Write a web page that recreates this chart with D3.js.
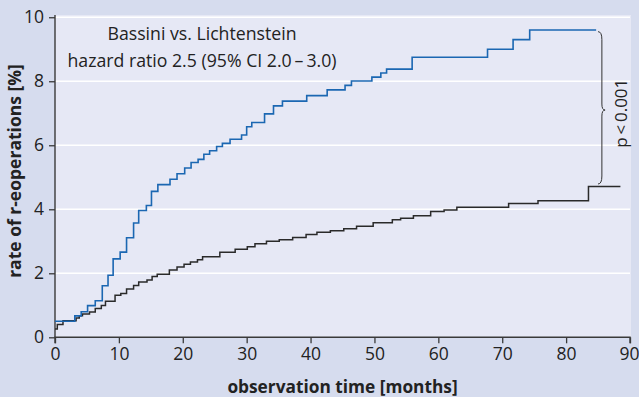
<!DOCTYPE html>
<html>
<head>
<meta charset="utf-8">
<script src="https://cdn.jsdelivr.net/npm/d3@7"></script>
<style>
  html, body { margin: 0; padding: 0; background: #d6dcee; }
  svg { display: block; font-family: "Open Sans", sans-serif; }
</style>
</head>
<body>
<svg id="chart" width="639" height="397"></svg>
<script>
// ---- data ----
const bassiniTime  = [0, 3.1, 4.1, 5.1, 6.3, 7.4, 8.3, 9.1, 10.2, 11.2, 12.3, 13.1, 14.3, 15.1, 16.1, 18.0, 19.1, 20.3, 21.3, 22.4, 23.3, 24.2, 25.3, 26.2, 27.4, 29.2, 30.0, 30.8, 32.8, 34.2, 35.6, 39.4, 42.6, 45.4, 46.4, 49.6, 51.0, 51.9, 55.9, 67.7, 71.7, 74.3, 84.7];
const bassiniRate  = [0.5, 0.67, 0.8, 0.99, 1.14, 1.61, 1.94, 2.45, 2.66, 3.11, 3.57, 3.96, 4.12, 4.56, 4.77, 4.94, 5.11, 5.29, 5.46, 5.56, 5.72, 5.83, 5.96, 6.06, 6.19, 6.32, 6.58, 6.71, 6.98, 7.23, 7.38, 7.55, 7.73, 7.87, 8.01, 8.13, 8.26, 8.38, 8.75, 9.0, 9.3, 9.6, 9.6];
const lichtTime    = [0, 0.36, 1.25, 3.3, 3.8, 4.3, 5.4, 6.3, 7.25, 7.9, 9.4, 10.3, 11.2, 12.3, 13.1, 14.4, 15.2, 16.0, 17.9, 19.1, 20.2, 21.2, 22.3, 23.1, 25.8, 28.2, 30.1, 31.3, 33.1, 35.1, 37.2, 39.3, 41.0, 43.1, 45.2, 47.2, 49.8, 52.8, 54.1, 56.1, 58.8, 60.9, 62.9, 71.0, 75.6, 83.5, 88.5];
const lichtRate    = [0.26, 0.4, 0.52, 0.6, 0.67, 0.73, 0.79, 0.9, 0.99, 1.13, 1.31, 1.37, 1.51, 1.62, 1.73, 1.79, 1.9, 1.97, 2.1, 2.2, 2.28, 2.35, 2.42, 2.52, 2.66, 2.75, 2.83, 2.92, 3.0, 3.05, 3.12, 3.21, 3.28, 3.33, 3.39, 3.47, 3.58, 3.67, 3.72, 3.8, 3.93, 3.98, 4.06, 4.18, 4.27, 4.71, 4.71];
const xTicks = [0, 10, 20, 30, 40, 50, 60, 70, 80, 90];
const yTicks = [0, 2, 4, 6, 8, 10];
const titleLines = ["Bassini vs. Lichtenstein", "hazard ratio 2.5 (95% CI 2.0\u2009\u2013\u20093.0)"];
const xLabel = "observation time [months]";
const yLabel = "rate of r-eoperations [%]";
const pLabel = "p\u2009<\u20090.001";

// ---- layout ----
const svg = d3.select("#chart");
const x = d3.scaleLinear().domain([0, 90]).range([55, 630]);
const y = d3.scaleLinear().domain([0, 10.07]).range([337.3, 15]);

// plot background
svg.append("rect")
  .attr("x", x(0)).attr("y", y(10.07))
  .attr("width", x(90) - x(0) + 1).attr("height", y(0) - y(10.07))
  .attr("fill", "#e6e8f5");

// grid lines
svg.append("g").selectAll("line").data(yTicks.filter(d => d > 0)).join("line")
  .attr("x1", x(0)).attr("x2", x(90))
  .attr("y1", d => y(d)).attr("y2", d => y(d))
  .attr("stroke", "#ffffff").attr("stroke-width", 1.6);

// axes
const xAxis = svg.append("g").attr("transform", `translate(0,${y(0)})`)
  .call(d3.axisBottom(x).tickValues(xTicks).tickSize(6).tickPadding(4).tickFormat(d3.format("d")));
const yAxis = svg.append("g").attr("transform", `translate(${x(0)},0)`)
  .call(d3.axisLeft(y).tickValues(yTicks).tickSize(6).tickPadding(5).tickFormat(d3.format("d")));
[xAxis, yAxis].forEach(g => {
  g.select(".domain").attr("stroke", "#3a3a3a").attr("stroke-width", 1.4);
  g.selectAll(".tick line").attr("stroke", "#3a3a3a").attr("stroke-width", 1.3);
  g.selectAll(".tick text").attr("fill", "#222").style("font-size", "17.5px")
   .style("font-family", "'Open Sans', sans-serif");
});
// keep the last x tick label inside the page edge
xAxis.selectAll(".tick text").filter(d => d === 90).attr("text-anchor", "end").attr("x", 9);
xAxis.select(".domain").attr("d", `M${x(0)},6V0H${x(90)}V6`);
yAxis.select(".domain").attr("d", `M0,${y(10.07)}H0V${y(0)}`);

// step lines
const line = d3.line().curve(d3.curveStepAfter).x(d => x(d[0])).y(d => y(d[1]));
svg.append("path")
  .datum(lichtTime.map((t, i) => [t, lichtRate[i]]))
  .attr("d", line).attr("fill", "none")
  .attr("stroke", "#2a2a2a").attr("stroke-width", 1.5);
svg.append("path")
  .datum(bassiniTime.map((t, i) => [t, bassiniRate[i]]))
  .attr("d", line).attr("fill", "none")
  .attr("stroke", "#1b67b2").attr("stroke-width", 1.6);

// brace
const bx0 = x(85.0), bx1 = x(85.6), bxc = x(86.1);
const byT = y(9.55), byM = y(7.1), byB = y(4.79);
svg.append("path")
  .attr("d", `M${bx0},${byT} Q${bx1},${byT} ${bx1},${byT + 8} L${bx1},${byM - 6} Q${bx1},${byM} ${bxc},${byM} Q${bx1},${byM} ${bx1},${byM + 6} L${bx1},${byB - 8} Q${bx1},${byB} ${bx0},${byB}`)
  .attr("fill", "none").attr("stroke", "#333").attr("stroke-width", 1);

svg.append("text")
  .attr("transform", `translate(627,${y(7.0)}) rotate(-90)`)
  .attr("text-anchor", "middle").attr("fill", "#222")
  .style("font-size", "17px").text(pLabel);

// title annotation
svg.append("g").selectAll("text").data(titleLines).join("text")
  .attr("x", 202).attr("y", (d, i) => 40 + i * 26.5)
  .attr("text-anchor", "middle").attr("fill", "#222")
  .style("font-size", "17.7px").text(d => d);

// axis labels
svg.append("text")
  .attr("x", (x(0) + x(90)) / 2).attr("y", 393)
  .attr("text-anchor", "middle").attr("fill", "#222")
  .style("font-size", "17.3px").style("font-weight", "bold").text(xLabel);
svg.append("text")
  .attr("transform", `translate(21,171) rotate(-90)`)
  .attr("text-anchor", "middle").attr("fill", "#222")
  .style("font-size", "17.5px").style("font-weight", "bold").text(yLabel);
</script>
</body>
</html>
